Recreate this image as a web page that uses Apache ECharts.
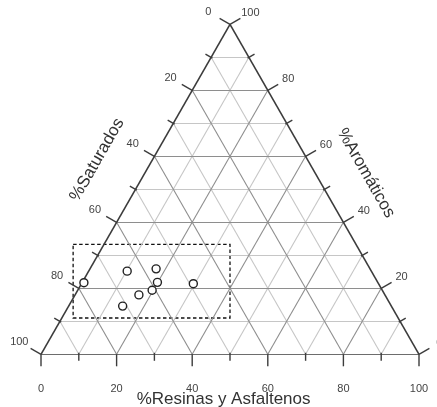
<!DOCTYPE html>
<html>
<head>
<meta charset="utf-8">
<script src="https://cdn.jsdelivr.net/npm/echarts@6/dist/echarts.min.js"></script>
<style>
  html, body { margin: 0; padding: 0; background: #fff; }
  #chart { width: 437px; height: 407px; }
</style>
</head>
<body>
<div id="chart"></div>
<script>
// Composition of each sample (%), the three parts add up to 100
const saturados  = [77.8, 64.6, 56.6, 58.3, 60.9, 65.1, 71.1, 49.0];
const aromaticos = [21.7, 25.2, 25.9, 21.8, 19.4, 18.0, 14.6, 21.4];
const resinas    = [ 0.5, 10.2, 17.5, 19.9, 19.7, 16.9, 14.3, 29.6];

// Axis ticks (every 10) and labelled values (every 20)
const tickValues  = [0, 10, 20, 30, 40, 50, 60, 70, 80, 90, 100];
const labelValues = [0, 20, 40, 60, 80, 100];

// Axis names: base, left edge, right edge
const axisNames = ['%Resinas y Asfaltenos', '%Saturados', '%Aromáticos'];

// Highlighted region, in plot units (base position, %Aromáticos)
const boxBase = [8.5, 50];
const boxArom = [11, 33.3];

// Ternary -> plot coordinates: x runs along the base (0-100), y is %Aromáticos.
function project(arom, res) {
  return [res + arom / 2, arom];
}

// Where a value of each axis sits on the triangle's edge
const edgePoint = [
  v => project(0, v),           // Resinas along the base
  v => project(100 - v, 0),     // Saturados along the left edge
  v => project(v, 100 - v)      // Aromáticos along the right edge
];

// Grid lines of constant Aromáticos, Resinas and Saturados
const majorLines = [], minorLines = [];
tickValues.slice(1, -1).forEach(v => {
  const segs = [
    [project(v, 0), project(v, 100 - v)],
    [project(0, v), project(100 - v, v)],
    [project(0, 100 - v), project(100 - v, 0)]
  ].map(c => ({ coords: c }));
  (v % 20 === 0 ? majorLines : minorLines).push(...segs);
});

const vBL = project(0, 0), vBR = project(0, 100), vTop = project(100, 0);
const edges = [[vBL, vBR], [vBL, vTop], [vBR, vTop]].map(c => ({ coords: c }));

const ticks = [];
[0, 1, 2].forEach(a => tickValues.forEach(v => ticks.push([a, v])));

const points = aromaticos.map((a, i) => {
  const p = project(a, resinas[i]);
  return [p[0], p[1], saturados[i], a, resinas[i]];
});

const FONT = '"Liberation Sans", Arial, Helvetica, sans-serif';

// Unit vector pointing away from the triangle for each axis (pixel space)
function outward(api, axis) {
  const bl = api.coord(vBL), br = api.coord(vBR), top = api.coord(vTop);
  if (axis === 0) return [0, 1];
  const from = axis === 1 ? bl : br;
  let ex = top[0] - from[0], ey = top[1] - from[1];
  const n = Math.hypot(ex, ey);
  ex /= n; ey /= n;
  return axis === 1 ? [ey, -ex] : [-ey, ex];
}

const labelGap = [34.7, 25, 23.5];

function renderTick(params, api) {
  const axis = api.value(0), v = api.value(1);
  const p = api.coord(edgePoint[axis](v));
  const d = outward(api, axis);
  const major = labelValues.indexOf(v) >= 0;
  const from = major ? 0 : -1.5, to = major ? 12 : 6.5;
  const children = [{
    type: 'line',
    shape: { x1: p[0] + d[0] * from, y1: p[1] + d[1] * from, x2: p[0] + d[0] * to, y2: p[1] + d[1] * to },
    style: { stroke: '#3c3c3c', lineWidth: 1.4 }
  }];
  if (major) {
    children.push({
      type: 'text',
      x: p[0] + d[0] * labelGap[axis],
      y: p[1] + d[1] * labelGap[axis],
      style: { text: String(v), fill: '#444', fontSize: 11, fontFamily: FONT, align: 'center', verticalAlign: 'middle' }
    });
  }
  return { type: 'group', children };
}

const titleAt  = [48.3, 48.3, 48.3];
const titleGap = [45, 48, 44];

function renderTitle(params, api) {
  const axis = api.value(0);
  const p = api.coord(edgePoint[axis](titleAt[axis]));
  const d = outward(api, axis);
  // side titles run parallel to their edge
  const rot = axis === 0 ? 0 : -Math.atan2(d[0], -d[1]);
  return {
    type: 'text',
    x: p[0] + d[0] * titleGap[axis],
    y: p[1] + d[1] * titleGap[axis],
    rotation: rot,
    style: { text: axisNames[axis], fill: '#333', fontSize: 17, fontFamily: FONT, align: 'center', verticalAlign: 'middle' }
  };
}

const chart = echarts.init(document.getElementById('chart'), null, { renderer: 'canvas' });
chart.setOption({
  animation: false,
  backgroundColor: '#fff',
  grid: { left: 41, top: 24.3, width: 378, height: 330 },
  xAxis: { type: 'value', min: 0, max: 100, show: false },
  yAxis: { type: 'value', min: 0, max: 100, show: false },
  series: [
    {
      type: 'lines', coordinateSystem: 'cartesian2d', silent: true, z: 1,
      lineStyle: { color: '#c6c6c6', width: 1.1, opacity: 1 },
      data: minorLines
    },
    {
      type: 'lines', coordinateSystem: 'cartesian2d', silent: true, z: 2,
      lineStyle: { color: '#8e8e8e', width: 1.1, opacity: 1 },
      data: majorLines
    },
    {
      type: 'lines', coordinateSystem: 'cartesian2d', silent: true, z: 3,
      lineStyle: { color: '#3c3c3c', width: 1.6, opacity: 1 },
      data: edges
    },
    {
      type: 'custom', coordinateSystem: 'cartesian2d', silent: true, z: 4,
      renderItem: renderTick, data: ticks
    },
    {
      type: 'custom', coordinateSystem: 'cartesian2d', silent: true, z: 4,
      renderItem: renderTitle, data: [[0], [1], [2]]
    },
    {
      type: 'scatter', z: 6,
      symbol: 'circle', symbolSize: 8,
      itemStyle: { color: '#fff', borderColor: '#222', borderWidth: 1.4, opacity: 1 },
      data: points,
      markArea: {
        silent: true,
        label: { show: false },
        itemStyle: { color: 'rgba(0,0,0,0)', borderColor: '#111', borderWidth: 1.3, borderType: [3.5, 2.5] },
        data: [[{ coord: [boxBase[0], boxArom[1]] }, { coord: [boxBase[1], boxArom[0]] }]]
      }
    }
  ]
});
</script>
</body>
</html>
